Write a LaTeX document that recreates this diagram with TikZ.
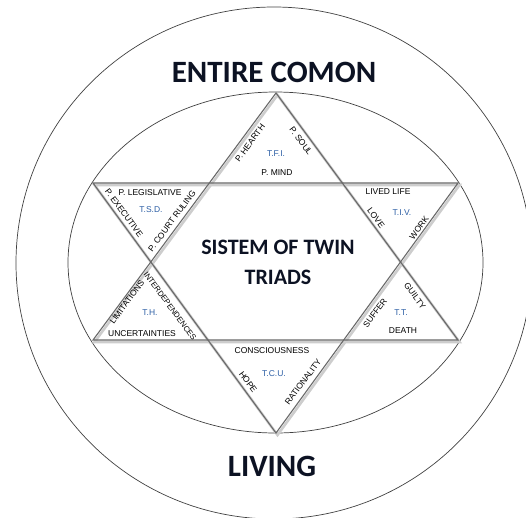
\documentclass[tikz,border=0pt]{standalone}
\usepackage{fontspec}
\setmainfont{Liberation Sans}
\newfontfamily\headfont{Carlito}
\definecolor{lineGray}{RGB}{105,105,105}
\definecolor{shadowGray}{RGB}{205,205,205}
\definecolor{labelBlue}{RGB}{45,95,165}
\definecolor{headNavy}{RGB}{12,18,35}
\begin{document}
\begin{tikzpicture}[x=1pt,y=-1pt,
  small/.style={font=\fontsize{8.5}{9}\selectfont, inner sep=0pt},
  tri/.style={small, text=labelBlue},
  head/.style={font=\headfont\bfseries\fontsize{31}{31}\selectfont, text=headNavy, inner sep=0pt},
  mid/.style={font=\headfont\bfseries\fontsize{22}{30}\selectfont, text=headNavy, align=center, inner sep=0pt},
  ring/.style={draw=black!75, line width=0.7pt},
  edge/.style={draw=lineGray, line width=1.1pt, line join=miter},
  shade/.style={draw=shadowGray, line width=2.6pt, line join=miter}
]
\useasboundingbox (0,0) rectangle (526,517);
% rings
\draw[ring] (274,263) ellipse [x radius=258pt, y radius=256pt];
\draw[ring] (275.5,262.5) ellipse [x radius=207.5pt, y radius=170.5pt];
% star vertices
\coordinate (T) at (276,93);
\coordinate (LL) at (93,340);
\coordinate (LR) at (458,340);
\coordinate (B) at (276,433);
\coordinate (UL) at (93,183);
\coordinate (UR) at (458,183);
% shadows
\draw[shade] ([shift={(1.5pt,-2pt)}]T) -- ([shift={(1.5pt,-2pt)}]LL) -- ([shift={(1.5pt,-2pt)}]LR) -- cycle;
\draw[shade] ([shift={(1.5pt,-2pt)}]B) -- ([shift={(1.5pt,-2pt)}]UL) -- ([shift={(1.5pt,-2pt)}]UR) -- cycle;
% triangles
\draw[edge] (T) -- (LL) -- (LR) -- cycle;
\draw[edge] (B) -- (UL) -- (UR) -- cycle;
% headings
\node[head] (entire) at (274,72) {ENTIRE COMON};
\node[head] (living) at (272,466) {LIVING};
\node[mid] (sistem) at (278,262) {SISTEM OF TWIN\\TRIADS};
% top point
\node[small, rotate=53.6] (phearth) at (250,143) {P. HEARTH};
\node[small, rotate=-53.6] (psoul) at (301,141) {P. SOUL};
\node[tri] (tfi) at (276,154) {T.F.I.};
\node[small] (pmind) at (277,173) {P. MIND};
% upper left point
\node[small] (pleg) at (150,193) {P. LEGISLATIVE};
\node[tri] (tsd) at (151,210) {T.S.D.};
\node[small, rotate=-53.6] (pexec) at (124,213) {P. EXECUTIVE};
\node[small, rotate=53.6] (pcourt) at (172,221) {P. COURT RULING};
% upper right point
\node[small] (lived) at (388,192) {LIVED LIFE};
\node[tri] (tiv) at (402,213) {T.I.V.};
\node[small, rotate=-53.6] (love) at (376,218) {LOVE};
\node[small, rotate=53.6] (work) at (419,228) {WORK};
% lower left point
\node[small, rotate=53.6] (limit) at (127,302) {LIMITATIONS};
\node[small, rotate=-53.6, font=\fontsize{7.8}{8}\selectfont] (interd) at (170,306) {INTERDEPENDENCES};
\node[tri] (th) at (150,313) {T.H.};
\node[small] (uncert) at (142,334) {UNCERTAINTIES};
% lower right point
\node[small, rotate=53.6] (suffer) at (375,313) {SUFFER};
\node[small, rotate=-53.6] (guilty) at (415,296) {GUILTY};
\node[tri] (tt) at (401,313) {T.T.};
\node[small] (death) at (403,331) {DEATH};
% bottom point
\node[small] (consc) at (272,351) {CONSCIOUSNESS};
\node[tri] (tcu) at (274,374) {T.C.U.};
\node[small, rotate=-53.6] (hope) at (248,382) {HOPE};
\node[small, rotate=53.6] (ration) at (303,382) {RATIONALITY};
\end{tikzpicture}
\end{document}
